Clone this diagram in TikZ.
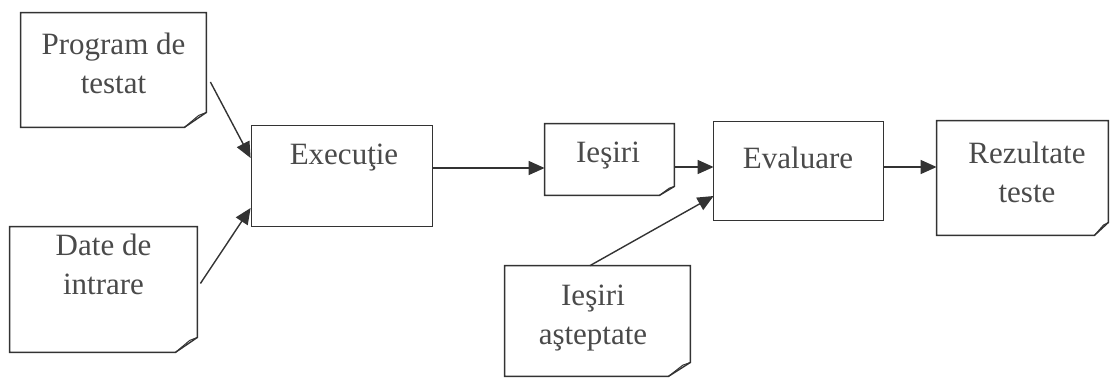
\documentclass[tikz,border=0pt]{standalone}
\usepackage{fontspec}
\setmainfont{Liberation Serif}
\usetikzlibrary{arrows.meta,calc}
\definecolor{ink}{HTML}{333333}
\definecolor{txt}{HTML}{4A4A4A}
\tikzset{
  box/.style={draw=none, inner sep=0pt, rectangle},
  edge/.style={draw=ink, line width=0.7pt, line join=miter},
  fold/.style={draw=ink, line width=0.5pt},
  label/.style={text=txt, font=\fontsize{15.5pt}{19.5pt}\selectfont, align=center, inner sep=0pt},
  arr/.style={draw=ink, line width=0.7pt, -{Triangle[length=8pt,width=7pt]}},
}
% outline of a sheet with a turned-down bottom-right corner
\newcommand\sheetoutline[3]{%
  \draw[edge] (#1.north west) -- (#1.north east) -- ([shift={(0,-#3)}]#1.south east)
    -- ([shift={(-#2,0)}]#1.south east) -- (#1.south west) -- cycle;
  \draw[fold] ([shift={(-#2,0)}]#1.south east) -- ([shift={(-0.35*#2,-0.8*#3)}]#1.south east)
    -- ([shift={(0,-#3)}]#1.south east);}
\begin{document}
\begin{tikzpicture}[x=0.5pt,y=-0.5pt]
  \useasboundingbox (0,0) rectangle (1111,377);

  % boxes
  \node[box, minimum width=92.5pt, minimum height=57pt]   (P)  at (113.5,70)  {};
  \node[box, minimum width=93.5pt, minimum height=62.5pt] (D)  at (103.5,289.5) {};
  \node[box, minimum width=90pt,   minimum height=50pt]   (E)  at (342,176)   {};
  \node[box, minimum width=64.5pt, minimum height=35.5pt] (I)  at (609.5,159.5) {};
  \node[box, minimum width=84.5pt, minimum height=49pt]   (Ev) at (798.5,171) {};
  \node[box, minimum width=85.5pt, minimum height=57pt]   (R)  at (1022.5,178) {};
  \node[box, minimum width=92.5pt, minimum height=55pt]   (IA) at (597.5,321) {};

  \sheetoutline{P}{22}{15}
  \sheetoutline{D}{22}{15}
  \draw[edge] (E.north west) rectangle (E.south east);
  \sheetoutline{I}{15}{9}
  \draw[edge] (Ev.north west) rectangle (Ev.south east);
  \sheetoutline{R}{14}{13}
  \sheetoutline{IA}{22}{14}

  % texts
  \node[label] (Pt)  at (113.5,63)  {Program de\\testat};
  \node[label] (Dt)  at (103.5,264) {Date de\\intrare};
  \node[label] (Et)  at (344,158)   {Execuţie};
  \node[label] (It)  at (608,156)   {Ieşiri};
  \node[label] (Evt) at (798,158)   {Evaluare};
  \node[label] (Rt)  at (1027,172)  {Rezultate\\teste};
  \node[label] (IAt) at (593,318)   {Ieşiri\\aşteptate};

  % connectors
  \draw[arr] ([shift={(4,12)}]P.east) -- ([shift={(-1,-18)}]E.west);
  \draw[arr] ([shift={(3,-6)}]D.east) -- ([shift={(-1,32)}]E.west);
  \draw[arr] ([shift={(0,-8)}]E.east) -- ([shift={(0,8.5)}]I.west);
  \draw[arr] ([shift={(0,7.5)}]I.east) -- ([shift={(0,-4)}]Ev.west);
  \draw[arr] ([shift={(-7.5,0)}]IA.north) -- ([shift={(0,25)}]Ev.west);
  \draw[arr] ([shift={(0,-4)}]Ev.east) -- ([shift={(0,-11)}]R.west);
\end{tikzpicture}
\end{document}
